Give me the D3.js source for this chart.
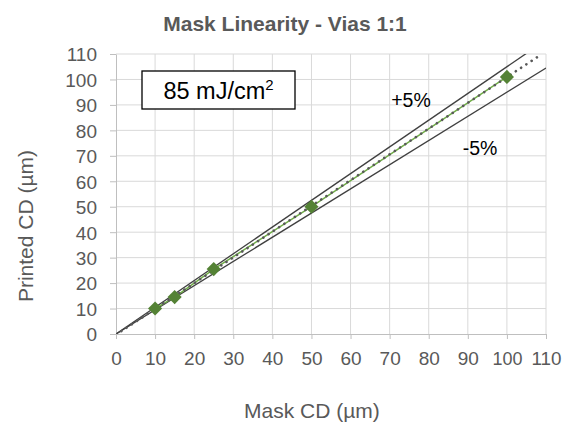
<!DOCTYPE html>
<html><head><meta charset="utf-8">
<script src="https://cdn.jsdelivr.net/npm/d3@7/dist/d3.min.js"></script>
<style>body{margin:0;background:#fff;} svg{font-family:"Liberation Sans",Arial,sans-serif;}</style>
</head><body>
<svg id="c" width="572" height="425"></svg>
<script>
const maskCD = [10, 15, 25, 50, 100];
const printedCD = [10, 14.5, 25.5, 50, 101];
const tickValues = [0,10,20,30,40,50,60,70,80,90,100,110];
const toleranceLines = [{label:"+5%", factor:1.05}, {label:"-5%", factor:0.95}];
const title = "Mask Linearity - Vias 1:1";
const xTitle = "Mask CD (µm)";
const yTitle = "Printed CD (µm)";

const svg = d3.select("#c");
const L = 116, R = 546, T = 54, B = 334;
const x = d3.scaleLinear().domain([0,110]).range([L,R]);
const y = d3.scaleLinear().domain([0,110]).range([B,T]);
const grey = "#595959", grid = "#d9d9d9";
const FF = "'Liberation Sans',Arial,sans-serif";

// grid
svg.append("g").selectAll("line").data(tickValues.slice(1)).join("line")
  .attr("x1",d=>x(d)).attr("x2",d=>x(d)).attr("y1",B).attr("y2",T)
  .attr("stroke",grid).attr("stroke-width",1);
svg.append("g").selectAll("line").data(tickValues.slice(1)).join("line")
  .attr("y1",d=>y(d)).attr("y2",d=>y(d)).attr("x1",L).attr("x2",R)
  .attr("stroke",grid).attr("stroke-width",1);

// axes
const xAxis = svg.append("g").attr("transform",`translate(0,${B})`)
  .call(d3.axisBottom(x).tickValues(tickValues).tickSize(5).tickPadding(13).tickSizeOuter(0));
const yAxis = svg.append("g").attr("transform",`translate(${L},0)`)
  .call(d3.axisLeft(y).tickValues(tickValues).tickSize(6).tickPadding(13).tickSizeOuter(0));
[xAxis,yAxis].forEach(a=>{
  a.attr("font-size",19).attr("font-family",FF);
  a.select(".domain").attr("stroke","#bfbfbf");
  a.selectAll(".tick line").attr("stroke","#bfbfbf");
  a.selectAll(".tick text").attr("fill",grey);
});
xAxis.selectAll(".tick text").filter(d=>d>=100).attr("textLength",30).attr("lengthAdjust","spacingAndGlyphs");
yAxis.selectAll(".tick text").attr("dy","0.36em");

// clip
svg.append("clipPath").attr("id","clip").append("rect")
  .attr("x",L).attr("y",T).attr("width",R-L).attr("height",B-T);
const plot = svg.append("g").attr("clip-path","url(#clip)");

// tolerance lines
plot.selectAll("line.tol").data(toleranceLines).join("line")
  .attr("x1",x(0)).attr("y1",y(0))
  .attr("x2",x(110)).attr("y2",d=>y(110*d.factor))
  .attr("stroke","#404040").attr("stroke-width",1.3);

// series line
const pts = maskCD.map((m,i)=>[m,printedCD[i]]);
plot.append("path").datum(pts)
  .attr("d",d3.line().x(d=>x(d[0])).y(d=>y(d[1])))
  .attr("fill","none").attr("stroke","#70ad47").attr("stroke-width",1.5);

// linear trendline (least squares through data)
const mx = d3.mean(maskCD), my = d3.mean(printedCD);
const slope = d3.sum(maskCD,(m,i)=>(m-mx)*(printedCD[i]-my))/d3.sum(maskCD,m=>(m-mx)*(m-mx));
const icpt = my - slope*mx;
const trendX = [0, 109];
plot.append("path").datum(trendX)
  .attr("d",d3.line().x(d=>x(d)).y(d=>y(slope*d+icpt)))
  .attr("fill","none").attr("stroke","#595959").attr("stroke-width",2.6)
  .attr("stroke-linecap","round").attr("stroke-dasharray","0.1 6.2");

// markers
svg.append("g").selectAll("path").data(pts).join("path")
  .attr("d",d3.symbol(d3.symbolSquare, 100))
  .attr("transform",d=>`translate(${x(d[0])},${y(d[1])}) rotate(45)`)
  .attr("fill","#548235");

// tolerance labels
svg.append("text").attr("x",x(70.4)).attr("y",y(89.2)).text(toleranceLines[0].label)
  .attr("font-size","19.5px").attr("fill","#000");
svg.append("text").attr("x",x(88.7)).attr("y",y(70.3)).text(toleranceLines[1].label)
  .attr("font-size","19.5px").attr("fill","#000");

// annotation box
svg.append("rect").attr("x",142).attr("y",71).attr("width",153).attr("height",38)
  .attr("fill","#fff").attr("stroke","#000").attr("stroke-width",1.3);
const ann = svg.append("text").attr("x",218.5).attr("y",99).attr("text-anchor","middle")
  .attr("font-size","23.5px").attr("fill","#000");
ann.append("tspan").text("85 mJ/cm");
ann.append("tspan").text("2").attr("font-size","15px").attr("dy","-9");

// titles
svg.append("text").attr("x",285).attr("y",31).attr("text-anchor","middle")
  .attr("font-size","21px").attr("font-weight","bold").attr("fill",grey).text(title);
svg.append("text").attr("x",312).attr("y",418).attr("text-anchor","middle")
  .attr("font-size","21px").attr("fill",grey).text(xTitle);
svg.append("text").attr("transform","translate(33,226) rotate(-90)").attr("text-anchor","middle")
  .attr("font-size","21px").attr("fill",grey).text(yTitle);
</script>
</body></html>
